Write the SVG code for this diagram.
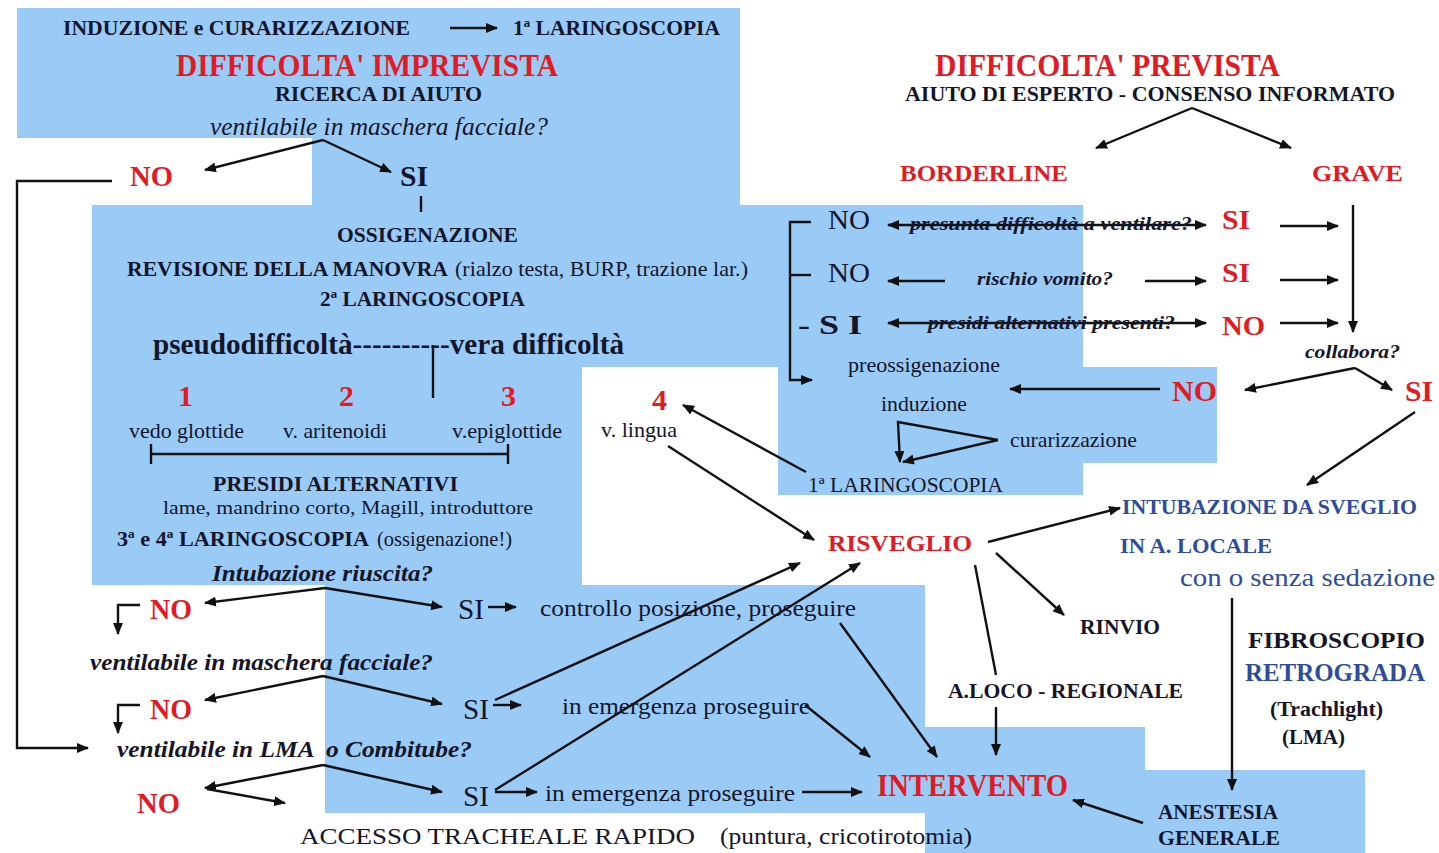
<svg xmlns="http://www.w3.org/2000/svg" width="1439" height="853" viewBox="0 0 1439 853" font-family="'Liberation Serif', serif">
<style>
text{font-family:"Liberation Serif",serif;fill:#15152a}
.b{font-weight:bold}
.i{font-style:italic}
.r{fill:#e01b24;font-weight:bold}
.bl{fill:#2d4c9c}
.bg{fill:#9acbf7}
.c{stroke:#111;stroke-width:2.4;fill:none}
.a{marker-end:url(#ah)}
.d{marker-start:url(#ah);marker-end:url(#ah)}
</style>
<defs>
<marker id="ah" viewBox="0 0 12 10" refX="11" refY="5" markerWidth="12" markerHeight="10" markerUnits="userSpaceOnUse" orient="auto-start-reverse">
<path d="M0,0 L12,5 L0,10 z" fill="#111"/>
</marker>
</defs>
<rect width="1439" height="853" fill="#fff"/>
<g id="background">
<rect class="bg" x="17" y="8" width="723" height="130"/>
<rect class="bg" x="312" y="137" width="428" height="70"/>
<rect class="bg" x="92" y="205" width="991" height="162"/>
<rect class="bg" x="92" y="365" width="490" height="220"/>
<rect class="bg" x="778" y="365" width="305" height="130"/>
<rect class="bg" x="1081" y="367" width="136" height="96"/>
<rect class="bg" x="325" y="585" width="600" height="228"/>
<rect class="bg" x="925" y="727" width="220" height="126"/>
<rect class="bg" x="985" y="812" width="160" height="41"/>
<rect class="bg" x="1143" y="770" width="222" height="83"/>
</g>
<g id="connectors">
<line class="c a" x1="450" y1="28" x2="497" y2="28"/>
<line class="c a" x1="323" y1="140" x2="205" y2="170"/>
<line class="c a" x1="323" y1="140" x2="391" y2="172"/>
<line class="c" x1="421" y1="196" x2="421" y2="212" stroke-width="1.6"/>
<polyline class="c a" points="112,181 17,181 17,748 88,748"/>
<line class="c" x1="433" y1="345" x2="433" y2="398" stroke-width="1.6"/>
<line class="c" x1="151" y1="454" x2="508" y2="454" stroke-width="1.8"/>
<line class="c" x1="151" y1="444" x2="151" y2="464" stroke-width="1.8"/>
<line class="c" x1="508" y1="444" x2="508" y2="464" stroke-width="1.8"/>
<line class="c a" x1="325" y1="588" x2="205" y2="603"/>
<line class="c a" x1="325" y1="588" x2="442" y2="607"/>
<polyline class="c a" points="140,605 118,605 118,634"/>
<line class="c a" x1="488" y1="607" x2="516" y2="607"/>
<line class="c a" x1="323" y1="676" x2="205" y2="700"/>
<line class="c a" x1="323" y1="676" x2="442" y2="704"/>
<polyline class="c a" points="140,705 118,705 118,733"/>
<line class="c a" x1="493" y1="705" x2="521" y2="705"/>
<line class="c a" x1="323" y1="765" x2="205" y2="788"/>
<line class="c a" x1="323" y1="765" x2="442" y2="792"/>
<line class="c a" x1="207" y1="789" x2="285" y2="803"/>
<line class="c a" x1="495" y1="792" x2="537" y2="792"/>
<line class="c a" x1="802" y1="792" x2="862" y2="792"/>
<line class="c a" x1="495" y1="700" x2="800" y2="563"/>
<line class="c a" x1="495" y1="790" x2="860" y2="563"/>
<line class="c a" x1="840" y1="623" x2="937" y2="757"/>
<line class="c a" x1="805" y1="705" x2="870" y2="757"/>
<line class="c a" x1="996" y1="707" x2="996" y2="755"/>
<line class="c a" x1="1143" y1="823" x2="1073" y2="800"/>
<line class="c a" x1="988" y1="542" x2="1120" y2="508"/>
<line class="c a" x1="996" y1="553" x2="1064" y2="615"/>
<line class="c" x1="975" y1="565" x2="996" y2="675" stroke-width="1.8"/>
<line class="c a" x1="668" y1="446" x2="814" y2="540"/>
<line class="c a" x1="806" y1="472" x2="683" y2="405"/>
<line class="c a" x1="1192" y1="108" x2="1096" y2="148"/>
<line class="c a" x1="1192" y1="108" x2="1291" y2="148"/>
<line class="c a" x1="1353" y1="205" x2="1353" y2="332" stroke-width="1.8"/>
<polyline class="c a" points="811,222 790,222 790,380 812,380" stroke-width="1.8"/>
<line class="c" x1="790" y1="275" x2="811" y2="275" stroke-width="1.8"/>
<line class="c d" x1="888" y1="225" x2="1206" y2="225" stroke-width="1.8"/>
<line class="c a" x1="945" y1="281" x2="888" y2="281"/>
<line class="c a" x1="1145" y1="281" x2="1206" y2="281"/>
<line class="c d" x1="888" y1="323" x2="1206" y2="323" stroke-width="1.8"/>
<line class="c a" x1="1280" y1="226" x2="1338" y2="226"/>
<line class="c a" x1="1280" y1="280" x2="1338" y2="280"/>
<line class="c a" x1="1280" y1="323" x2="1338" y2="323"/>
<line class="c a" x1="1355" y1="368" x2="1245" y2="390"/>
<line class="c a" x1="1355" y1="368" x2="1392" y2="390"/>
<line class="c a" x1="1160" y1="389" x2="1010" y2="389"/>
<polyline class="c a" points="998,440 898,422 900,462"/>
<line class="c a" x1="998" y1="440" x2="903" y2="462"/>
<line class="c a" x1="1415" y1="412" x2="1307" y2="485"/>
<line class="c a" x1="1232" y1="598" x2="1232" y2="790" stroke-width="1.8"/>
</g>
<g id="n-induzione"><text class="b" x="63" y="35" font-size="22" textLength="347" lengthAdjust="spacingAndGlyphs">INDUZIONE e CURARIZZAZIONE</text>
<text class="b" x="513" y="35" font-size="22" textLength="207" lengthAdjust="spacingAndGlyphs">1ª LARINGOSCOPIA</text></g>
<g id="n-imprevista"><text class="r" x="176" y="76" font-size="31" textLength="382" lengthAdjust="spacingAndGlyphs">DIFFICOLTA' IMPREVISTA</text>
<text class="b" x="275" y="101" font-size="22" textLength="207" lengthAdjust="spacingAndGlyphs">RICERCA DI AIUTO</text>
<text class="i" x="210" y="135" font-size="25" textLength="338" lengthAdjust="spacingAndGlyphs">ventilabile in maschera facciale?</text></g>
<g id="n-no1"><text class="r" x="130" y="186" font-size="29" textLength="43" lengthAdjust="spacingAndGlyphs">NO</text></g>
<g id="n-si1"><text class="b" x="400" y="186" font-size="29" textLength="28" lengthAdjust="spacingAndGlyphs">SI</text></g>
<g id="n-ossigenazione">
<text class="b" x="337" y="242" font-size="22" textLength="181" lengthAdjust="spacingAndGlyphs">OSSIGENAZIONE</text>
<text class="b" x="127" y="276" font-size="22" textLength="321" lengthAdjust="spacingAndGlyphs">REVISIONE DELLA MANOVRA</text>
<text x="455" y="276" font-size="21" textLength="293" lengthAdjust="spacingAndGlyphs">(rialzo testa, BURP, trazione lar.)</text>
<text class="b" x="320" y="306" font-size="22" textLength="205" lengthAdjust="spacingAndGlyphs">2ª LARINGOSCOPIA</text>
<text class="b" x="153" y="354" font-size="29" textLength="471" lengthAdjust="spacingAndGlyphs">pseudodifficoltà----------vera difficoltà</text>
</g>
<g id="n-grades">
<text class="r" x="178" y="406" font-size="30">1</text>
<text class="r" x="339" y="406" font-size="30">2</text>
<text class="r" x="501" y="406" font-size="30">3</text>
<text x="129" y="438" font-size="21" textLength="115" lengthAdjust="spacingAndGlyphs">vedo glottide</text>
<text x="283" y="438" font-size="21" textLength="104" lengthAdjust="spacingAndGlyphs">v. aritenoidi</text>
<text x="452" y="438" font-size="21" textLength="110" lengthAdjust="spacingAndGlyphs">v.epiglottide</text>
</g>
<g id="n-presidi">
<text class="b" x="213" y="491" font-size="21" textLength="245" lengthAdjust="spacingAndGlyphs">PRESIDI ALTERNATIVI</text>
<text x="163" y="514" font-size="19" textLength="370" lengthAdjust="spacingAndGlyphs">lame, mandrino corto, Magill, introduttore</text>
<text class="b" x="117" y="546" font-size="21" textLength="252" lengthAdjust="spacingAndGlyphs">3ª e 4ª LARINGOSCOPIA</text>
<text x="377" y="546" font-size="21" textLength="135" lengthAdjust="spacingAndGlyphs">(ossigenazione!)</text>
<text class="b i" x="212" y="581" font-size="24" textLength="221" lengthAdjust="spacingAndGlyphs">Intubazione riuscita?</text>
</g>
<g id="n-no2"><text class="r" x="150" y="619" font-size="29" textLength="42" lengthAdjust="spacingAndGlyphs">NO</text></g>
<g id="n-si2"><text x="458" y="619" font-size="29" textLength="26" lengthAdjust="spacingAndGlyphs">SI</text>
<text x="540" y="616" font-size="24" textLength="316" lengthAdjust="spacingAndGlyphs">controllo posizione, proseguire</text></g>
<g id="n-ventmask"><text class="b i" x="90" y="670" font-size="24" textLength="343" lengthAdjust="spacingAndGlyphs">ventilabile in maschera facciale?</text></g>
<g id="n-no3"><text class="r" x="150" y="719" font-size="29" textLength="42" lengthAdjust="spacingAndGlyphs">NO</text></g>
<g id="n-si3"><text x="463" y="719" font-size="29" textLength="26" lengthAdjust="spacingAndGlyphs">SI</text>
<text x="562" y="714" font-size="24" textLength="248" lengthAdjust="spacingAndGlyphs">in emergenza proseguire</text></g>
<g id="n-ventlma"><text class="b i" x="117" y="757" font-size="24" textLength="355" lengthAdjust="spacingAndGlyphs" xml:space="preserve">ventilabile in LMA  o Combitube?</text></g>
<g id="n-no4"><text class="r" x="137" y="813" font-size="29" textLength="43" lengthAdjust="spacingAndGlyphs">NO</text></g>
<g id="n-si4"><text x="463" y="806" font-size="29" textLength="26" lengthAdjust="spacingAndGlyphs">SI</text>
<text x="545" y="801" font-size="24" textLength="250" lengthAdjust="spacingAndGlyphs">in emergenza proseguire</text></g>
<g id="n-accesso"><text x="300" y="844" font-size="24" textLength="395" lengthAdjust="spacingAndGlyphs">ACCESSO TRACHEALE RAPIDO</text>
<text x="720" y="844" font-size="23" textLength="252" lengthAdjust="spacingAndGlyphs">(puntura, cricotirotomia)</text></g>
<g id="n-prevista"><text class="r" x="935" y="76" font-size="31" textLength="345" lengthAdjust="spacingAndGlyphs">DIFFICOLTA' PREVISTA</text>
<text class="b" x="905" y="101" font-size="22" textLength="490" lengthAdjust="spacingAndGlyphs">AIUTO DI ESPERTO - CONSENSO INFORMATO</text></g>
<g id="n-borderline"><text class="r" x="900" y="181" font-size="24" textLength="168" lengthAdjust="spacingAndGlyphs">BORDERLINE</text></g>
<g id="n-grave"><text class="r" x="1312" y="181" font-size="24" textLength="91" lengthAdjust="spacingAndGlyphs">GRAVE</text></g>
<g id="n-questions">
<text x="828" y="229" font-size="28" textLength="42" lengthAdjust="spacingAndGlyphs">NO</text>
<text x="828" y="282" font-size="28" textLength="42" lengthAdjust="spacingAndGlyphs">NO</text>
<text class="b" x="798" y="334" font-size="28" textLength="64" lengthAdjust="spacingAndGlyphs">- S I</text>
<text class="b i" x="910" y="230" font-size="19" textLength="282" lengthAdjust="spacingAndGlyphs">presunta difficoltà a ventilare?</text>
<text class="b i" x="977" y="285" font-size="19" textLength="136" lengthAdjust="spacingAndGlyphs">rischio vomito?</text>
<text class="b i" x="928" y="329" font-size="19" textLength="247" lengthAdjust="spacingAndGlyphs">presidi alternativi presenti?</text>
<text class="r" x="1222" y="229" font-size="28" textLength="28" lengthAdjust="spacingAndGlyphs">SI</text>
<text class="r" x="1222" y="282" font-size="28" textLength="28" lengthAdjust="spacingAndGlyphs">SI</text>
<text class="r" x="1222" y="335" font-size="28" textLength="43" lengthAdjust="spacingAndGlyphs">NO</text>
</g>
<g id="n-collabora"><text class="b i" x="1305" y="358" font-size="19" textLength="95" lengthAdjust="spacingAndGlyphs">collabora?</text></g>
<g id="n-no5"><text class="r" x="1172" y="401" font-size="30" textLength="45" lengthAdjust="spacingAndGlyphs">NO</text></g>
<g id="n-si5"><text class="r" x="1405" y="401" font-size="30" textLength="28" lengthAdjust="spacingAndGlyphs">SI</text></g>
<g id="n-preoss">
<text x="848" y="372" font-size="21" textLength="152" lengthAdjust="spacingAndGlyphs">preossigenazione</text>
<text x="881" y="411" font-size="21" textLength="86" lengthAdjust="spacingAndGlyphs">induzione</text>
<text x="1010" y="447" font-size="21" textLength="127" lengthAdjust="spacingAndGlyphs">curarizzazione</text>
<text x="808" y="492" font-size="21" textLength="195" lengthAdjust="spacingAndGlyphs">1ª LARINGOSCOPIA</text>
</g>
<g id="n-4"><text class="r" x="652" y="410" font-size="30">4</text>
<text x="601" y="437" font-size="21" textLength="76" lengthAdjust="spacingAndGlyphs">v. lingua</text></g>
<g id="n-risveglio"><text class="r" x="828" y="551" font-size="24" textLength="144" lengthAdjust="spacingAndGlyphs">RISVEGLIO</text></g>
<g id="n-intubazione">
<text class="b bl" x="1122" y="514" font-size="22" textLength="295" lengthAdjust="spacingAndGlyphs">INTUBAZIONE DA SVEGLIO</text>
<text class="b bl" x="1120" y="553" font-size="22" textLength="152" lengthAdjust="spacingAndGlyphs">IN A. LOCALE</text>
<text class="bl" x="1180" y="586" font-size="26" textLength="255" lengthAdjust="spacingAndGlyphs">con o senza sedazione</text>
</g>
<g id="n-rinvio"><text class="b" x="1080" y="634" font-size="22" textLength="80" lengthAdjust="spacingAndGlyphs">RINVIO</text></g>
<g id="n-fibroscopio">
<text class="b" x="1248" y="648" font-size="24" textLength="177" lengthAdjust="spacingAndGlyphs">FIBROSCOPIO</text>
<text class="b bl" x="1245" y="681" font-size="25" textLength="180" lengthAdjust="spacingAndGlyphs">RETROGRADA</text>
<text class="b" x="1270" y="716" font-size="20" textLength="113" lengthAdjust="spacingAndGlyphs">(Trachlight)</text>
<text class="b" x="1282" y="744" font-size="20" textLength="63" lengthAdjust="spacingAndGlyphs">(LMA)</text>
</g>
<g id="n-aloco"><text class="b" x="948" y="698" font-size="22" textLength="235" lengthAdjust="spacingAndGlyphs">A.LOCO - REGIONALE</text></g>
<g id="n-intervento"><text class="r" x="877" y="796" font-size="31" textLength="191" lengthAdjust="spacingAndGlyphs">INTERVENTO</text></g>
<g id="n-anestesia">
<text class="b" x="1158" y="819" font-size="22" textLength="120" lengthAdjust="spacingAndGlyphs">ANESTESIA</text>
<text class="b" x="1158" y="845" font-size="22" textLength="122" lengthAdjust="spacingAndGlyphs">GENERALE</text>
</g>
</svg>
